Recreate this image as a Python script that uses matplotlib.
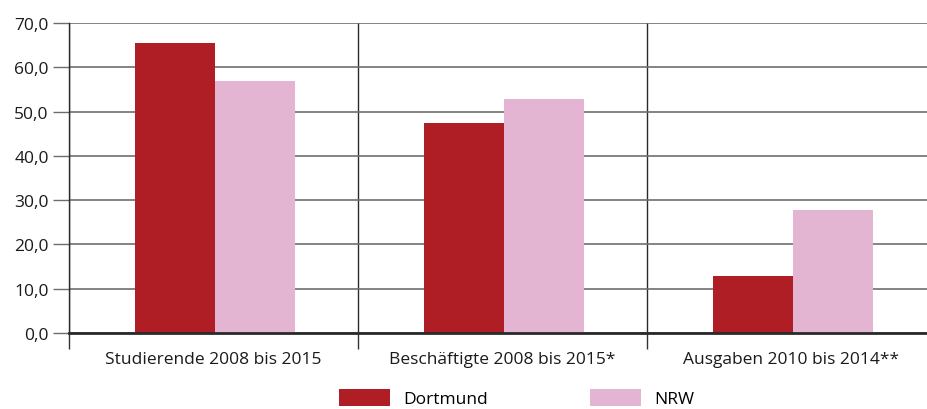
import matplotlib
matplotlib.use("Agg")
import matplotlib.pyplot as plt
import numpy as np
from matplotlib.ticker import FuncFormatter, FixedLocator
from matplotlib.patches import Patch

categories = ["Studierende 2008 bis 2015", "Beschäftigte 2008 bis 2015*", "Ausgaben 2010 bis 2014**"]
dortmund = [65.5, 47.4, 12.9]
nrw = [56.9, 52.8, 27.8]
series_names = ["Dortmund", "NRW"]
colors = ["#B01E25", "#E3B5D3"]

plt.rcParams['font.family'] = ['Open Sans', 'DejaVu Sans']

fig = plt.figure(figsize=(9.27, 4.10), dpi=100)
ax = fig.add_axes([69/927, 1-334/410, 867/927, 310/410])

x = np.arange(len(categories))
w = 0.277
off = 0.006
ax.bar(x + off - w/2, dortmund, width=w, color=colors[0], zorder=3)
ax.bar(x + off + w/2, nrw, width=w, color=colors[1], zorder=3)

ax.set_xlim(-0.5, 2.5)
ax.set_ylim(0, 70)
ax.set_yticks(np.arange(0, 71, 10))
ax.yaxis.set_major_formatter(FuncFormatter(lambda v, p: f"{v:.1f}".replace(".", ",")))
ax.yaxis.grid(True, color="#6e6e6e", linewidth=1.2, zorder=0)
ax.tick_params(axis='y', length=11.5, width=1.0, color="#6e6e6e", labelsize=12.5, pad=3, labelcolor="#1a1a1a")

ax.set_xticks(x)
ax.set_xticklabels(categories, fontsize=12.5, color="#1a1a1a")
ax.tick_params(axis='x', which='major', length=0, pad=13)
ax.xaxis.set_minor_locator(FixedLocator([-0.5, 0.5, 1.5, 2.5]))
ax.tick_params(axis='x', which='minor', length=11.5, width=1.0, color="#333333")
ax.xaxis.grid(True, which='minor', color="#2a2a2a", linewidth=1.0, zorder=1)

for s in ["top", "right"]:
    ax.spines[s].set_visible(False)
ax.spines["left"].set_color("#2a2a2a")
ax.spines["left"].set_linewidth(1.0)
ax.spines["bottom"].set_color("#2a2a2a")
ax.spines["bottom"].set_linewidth(2.0)
ax.spines["bottom"].set_zorder(4)

handles = [Patch(facecolor=c) for c in colors]
fig.legend(handles, series_names, loc="lower left", bbox_to_anchor=(339/927, 0.004), ncol=2,
           frameon=False, fontsize=12.5, handlelength=2.93, handleheight=1.2,
           columnspacing=5.9, handletextpad=0.75, borderpad=0, borderaxespad=0)

fig.savefig("out.png", dpi=100)
